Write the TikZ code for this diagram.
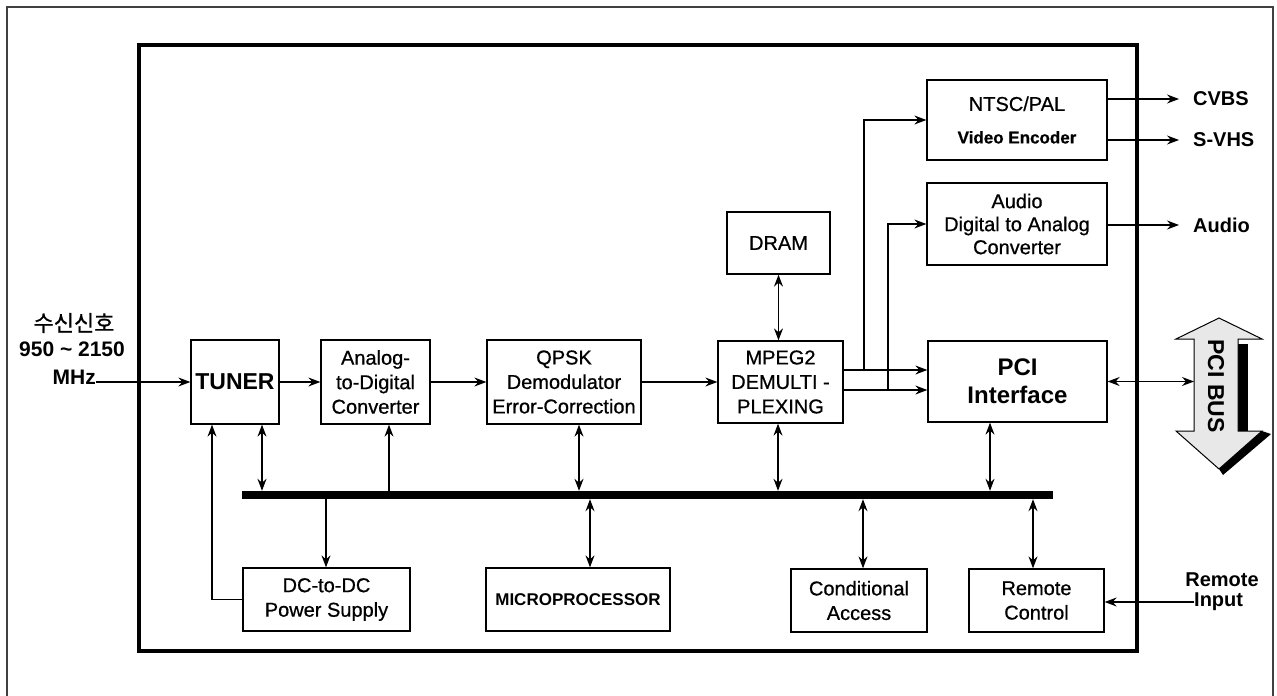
\documentclass[tikz,border=0pt]{standalone}
\usepackage{fontspec}
\setmainfont{Liberation Sans}
\newfontfamily\boxfont{Liberation Sans}[FakeBold=0.7]
\newfontfamily\krfont{Noto Sans CJK KR}[FakeBold=0.8]
\usetikzlibrary{arrows.meta}
\begin{document}
\begin{tikzpicture}[x=1pt,y=-1pt,
  box/.style={draw, line width=1.3pt, inner sep=0pt, align=center, font=\boxfont\fontsize{20}{24.5}\selectfont},
  arr/.style={-{Stealth[length=12pt,width=9pt,inset=4pt]}, line width=1.2pt},
  darr/.style={{Stealth[length=12pt,width=9pt,inset=4pt]}-{Stealth[length=12pt,width=9pt,inset=4pt]}, line width=1.2pt},
  lbl/.style={font=\fontsize{20}{24}\selectfont\bfseries, inner sep=0pt, align=center}
]
\useasboundingbox (0,0) rectangle (1277,696);
\fill[white] (0,0) rectangle (1277,696);
\draw[line width=1.2pt, black!75] (7,700) -- (7,7) -- (1273,7) -- (1273,700);
\draw[line width=4.5pt] (139,45) rectangle (1137,651);

% main chain
\node[box, minimum width=88pt, minimum height=84pt, font=\fontsize{23}{26}\selectfont\bfseries] (tuner) at (235,382) {TUNER};
\node[box, minimum width=109pt, minimum height=84pt] (adc) at (375.5,382) {Analog-\\to-Digital\\Converter};
\node[box, minimum width=154pt, minimum height=84pt] (qpsk) at (564,382) {QPSK\\Demodulator\\Error-Correction};
\node[box, minimum width=125pt, minimum height=82pt] (mpeg) at (780.5,382) {MPEG2\\DEMULTI -\\PLEXING};
\node[box, minimum width=179pt, minimum height=81pt, font=\fontsize{24}{28}\selectfont\bfseries] (pci) at (1017.5,381.5) {PCI\\Interface};
\node[box, minimum width=103pt, minimum height=62pt, font=\boxfont\fontsize{20}{22}\selectfont] (dram) at (778.5,243) {DRAM};
\node[box, minimum width=180pt, minimum height=80pt] (ntsc) at (1017,120) {NTSC/PAL\\[8pt]\fontsize{17}{18}\selectfont\bfseries Video Encoder};
\node[box, minimum width=180pt, minimum height=82pt, font=\boxfont\fontsize{20}{23}\selectfont] (dac) at (1017,224) {Audio\\Digital to Analog\\Converter};
\node[box, minimum width=167pt, minimum height=63pt] (dcdc) at (326.5,599.5) {DC-to-DC\\Power Supply};
\node[box, minimum width=184pt, minimum height=63pt, font=\fontsize{17}{20}\selectfont\bfseries] (micro) at (578,599.5) {MICROPROCESSOR};
\node[box, minimum width=136pt, minimum height=63pt] (cond) at (859,600.5) {Conditional\\Access};
\node[box, minimum width=135pt, minimum height=63pt] (remote) at (1036.5,600.5) {Remote\\Control};

% bus
\node[fill=black, inner sep=0pt, minimum width=811pt, minimum height=8pt] (bus) at (647.5,495) {};

% input labels
\node[font=\fontsize{22}{24}\selectfont\krfont, inner sep=0pt] (kor) at (74,323) {수신신호};
\node[lbl, font=\fontsize{21}{24}\selectfont\bfseries] (freq) at (72,349) {950 \textasciitilde{} 2150};
\node[lbl, font=\fontsize{21}{24}\selectfont\bfseries, anchor=base east] (mhz) at (96,384) {MHz};

% output labels
\node[lbl, anchor=west] (cvbs) at (1193,99) {CVBS};
\node[lbl, anchor=west] (svhs) at (1193,140) {S-VHS};
\node[lbl, anchor=west] (aout) at (1193,225) {Audio};
\node[lbl] (rin1) at (1222,580) {Remote};
\node[lbl, anchor=west] (rin2) at (1194,602) {Input};

% PCI BUS block arrow
\fill (1238,344) rectangle (1248,431);
\fill (1262,431) -- (1271,434) -- (1223,475) -- (1219,469) -- cycle;
\filldraw[fill=gray!18, line width=1pt] (1219,318) -- (1262,339) -- (1238,339) -- (1238,431) -- (1262,431) -- (1219,469) -- (1176,431) -- (1194,431) -- (1194,339) -- (1176,339) -- cycle;
\node[rotate=-90, font=\fontsize{23}{23}\selectfont\bfseries, inner sep=0pt] (pcibus) at (1216,386) {PCI BUS};
\coordinate (pcib) at (1194,381.5);

% connectors
\draw[arr] ([yshift=2pt]mhz.base east) -- (tuner.west);
\draw[arr] (tuner) -- (adc);
\draw[arr] (adc) -- (qpsk);
\draw[arr] (qpsk) -- (mpeg);
\draw[arr] (mpeg.east |- 0,370) -- (pci.west |- 0,370);
\draw[arr] (mpeg.east |- 0,390) -- (pci.west |- 0,390);
\coordinate (j1) at (864,370);
\coordinate (j2) at (888,390);
\draw[arr] (j1) |- (ntsc.west);
\draw[arr] (j2) |- (dac.west);
\draw[arr] (ntsc.east |- cvbs) -- ([xshift=-14pt]cvbs.west);
\draw[arr] (ntsc.east |- svhs) -- ([xshift=-14pt]svhs.west);
\draw[arr] (dac.east |- aout) -- ([xshift=-14pt]aout.west);
\draw[darr] (dram.south) -- (dram.south |- mpeg.north);
\draw[darr] (pci.east) -- (pcib);

\draw[darr] (262,0 |- tuner.south) -- (262,0 |- bus.north);
\draw[arr] (dcdc.west) -| (212,0 |- tuner.south);
\draw[arr] (389,0 |- bus.north) -- (389,0 |- adc.south);
\draw[arr] (326,0 |- bus.south) -- (326,0 |- dcdc.north);
\draw[darr] (579,0 |- qpsk.south) -- (579,0 |- bus.north);
\draw[darr] (590,0 |- bus.south) -- (590,0 |- micro.north);
\draw[darr] (778,0 |- mpeg.south) -- (778,0 |- bus.north);
\draw[darr] (863,0 |- bus.south) -- (863,0 |- cond.north);
\draw[darr] (990,0 |- pci.south) -- (990,0 |- bus.north);
\draw[darr] (1033,0 |- bus.south) -- (1033,0 |- remote.north);
\draw[arr] (rin2.west) -- (rin2.west -| remote.east);
\end{tikzpicture}
\end{document}
